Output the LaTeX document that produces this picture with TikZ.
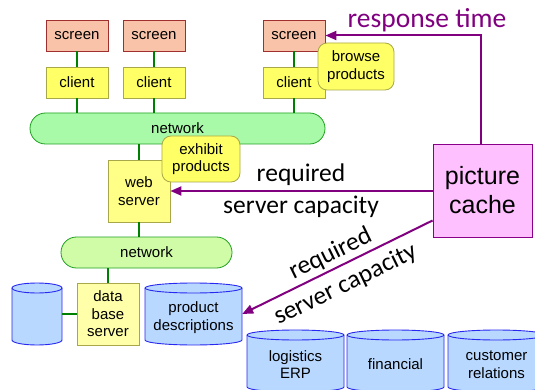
\documentclass[tikz,border=0pt]{standalone}
\usepackage{fontspec}
\setmainfont{Liberation Sans}
\newfontfamily\calfont{Carlito}
\usetikzlibrary{arrows.meta,calc}
\definecolor{scrfill}{HTML}{F9C3A9}
\definecolor{scrline}{HTML}{A03030}
\definecolor{clifill}{HTML}{FFFF66}
\definecolor{cliline}{HTML}{A8A848}
\definecolor{webfill}{HTML}{FFFF88}
\definecolor{dbfill}{HTML}{FFFFAA}
\definecolor{netfill}{HTML}{A8FAA8}
\definecolor{netfilltwo}{HTML}{D0FCA8}
\definecolor{netline}{HTML}{20A020}
\definecolor{cylfill}{HTML}{B8D8FF}
\definecolor{cylline}{HTML}{2828F0}
\definecolor{cachefill}{HTML}{FFC0FF}
\definecolor{cacheline}{HTML}{8B008B}
\definecolor{arrowcol}{HTML}{800080}
\definecolor{gcol}{HTML}{008000}
\newcommand\dbcyl[6]{%
  \path[cylbody] ({#2-#4/2},{#3+#5/2-5}) -- ({#2-#4/2},{#3-#5/2+5})
     arc[start angle=180,end angle=360,x radius=#4/2,y radius=5]
     -- ({#2+#4/2},{#3+#5/2-5})
     arc[start angle=0,end angle=180,x radius=#4/2,y radius=5] -- cycle;
  \draw[cylborder] ({#2-#4/2},{#3+#5/2-5})
     arc[start angle=180,end angle=360,x radius=#4/2,y radius=5];
  \node[inner sep=0pt, minimum width=#4pt, minimum height=#5pt] (#1) at (#2,#3) {};
  \node[nodefont, align=center] (#1-text) at (#2,#3-3.5) {#6};
}
\begin{document}
\begin{tikzpicture}[x=1pt,y=1pt,
  nodefont/.style={font=\fontsize{15}{17.5}\selectfont},
  box/.style={draw, line width=0.8pt, minimum width=62pt, minimum height=31pt,
    inner sep=0pt, align=center, nodefont},
  scr/.style={box, fill=scrfill, draw=scrline},
  cli/.style={box, fill=clifill, draw=cliline},
  web/.style={box, fill=webfill, draw=cliline, minimum height=62pt},
  dbs/.style={box, fill=dbfill, draw=cliline, minimum height=62pt},
  net/.style={box, fill=netfill, draw=netline, rounded corners=15.5pt},
  nettwo/.style={box, fill=netfilltwo, draw=netline, rounded corners=15.5pt},
  bubble/.style={box, fill=clifill, draw=cliline, rounded corners=9pt},
  cache/.style={draw=cacheline, fill=cachefill, line width=0.9pt,
    minimum width=99pt, minimum height=93pt, inner sep=0pt, align=center,
    font=\fontsize{25}{29}\selectfont},
  cylbody/.style={fill=cylfill, draw=cylline, line width=0.9pt},
  cylborder/.style={draw=cylline, line width=0.9pt},
  gline/.style={draw=gcol, line width=2.4pt},
  parrow/.style={draw=arrowcol, line width=2pt, -{Triangle[length=11pt,width=9pt]}},
  bigtext/.style={font=\calfont\fontsize{25.5}{32}\selectfont, inner sep=0pt, align=center},
]
\useasboundingbox (0,0) rectangle (535,-390);

% boxes
\node[scr] (s1) at (77,-35.5) {screen};
\node[scr] (s2) at (154,-35.5) {screen};
\node[scr] (s3) at (294,-35.5) {screen};
\node[cli] (c1) at (77,-82.5) {client};
\node[cli] (c2) at (154,-82.5) {client};
\node[cli] (c3) at (294,-82.5) {client};
\node[net, minimum width=295pt] (n1) at (177.5,-128.5) {network};
\node[web] (web) at (139,-191) {web\\server};
\node[nettwo, minimum width=171pt] (n2) at (146.5,-252.5) {network};
\node[dbs] (db) at (108,-314) {data\\base\\server};

% databases
\dbcyl{cylA}{37}{-314}{50}{62}{}
\dbcyl{pd}{193.5}{-314}{97}{62}{product\\descriptions}
\dbcyl{erp}{295.5}{-361}{97}{62}{logistics\\ERP}
\dbcyl{fin}{395.5}{-361}{97}{62}{financial}
\dbcyl{crm}{496.5}{-361}{97}{62}{customer\\relations}

% green connectors
\draw[gline] (s1) -- (c1);
\draw[gline] (s2) -- (c2);
\draw[gline] (s3) -- (c3);
\draw[gline] (c1.south) -- (c1.south |- n1.north);
\draw[gline] (c2.south) -- (c2.south |- n1.north);
\draw[gline] (c3.south) -- (c3.south |- n1.north);
\draw[gline] (web.north |- n1.south) -- (web.north);
\draw[gline] (web.south) -- (web.south |- n2.north);
\draw[gline] (db.north |- n2.south) -- (db.north);
\draw[gline] (cylA.east) -- (db.west);

% picture cache
\node[cache] (cache) at (482.5,-190.5) {picture\\cache};

% purple arrows
\draw[parrow] ([xshift=-2pt]cache.north) |- (s3.east);
\draw[parrow] (cache.west |- web.east) -- (web.east);
\draw[parrow] ([yshift=-30pt]cache.west) -- (pd.east);

% bubbles
\node[bubble, minimum width=78pt, minimum height=46pt] (exh) at (201,-159) {exhibit\\products};
\node[bubble, minimum width=76pt, minimum height=47pt] (brw) at (356,-66.5) {browse\\products};

% labels
\node[bigtext, text=arrowcol, font=\calfont\fontsize{27.5}{30}\selectfont] (rt) at (427,-20) {response time};
\node[bigtext] (rq) at (301,-191) {required\\server capacity};
\node[bigtext, rotate=26, font=\calfont\fontsize{25.5}{34}\selectfont] (rqd) at (338,-269.5) {required\\server capacity};
\end{tikzpicture}
\end{document}
